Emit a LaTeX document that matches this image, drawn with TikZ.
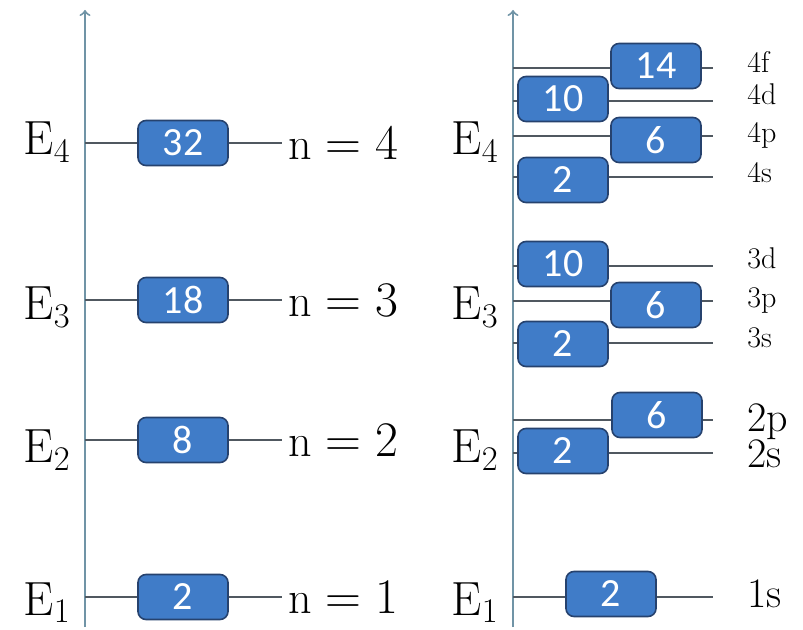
\documentclass[tikz,border=0pt]{standalone}
\usepackage{fontspec}
\newfontfamily\boxfont{Carlito}
\usepackage{xcolor}
\definecolor{shellblue}{RGB}{64,124,200}
\definecolor{shellnavy}{RGB}{38,66,110}
\definecolor{axisgrey}{RGB}{112,148,166}
\definecolor{levelgrey}{RGB}{80,88,96}
\usepackage{tikz}
\tikzset{
  % --- AXES AND LEVELS ---
  energy-axis/.style={
    draw=axisgrey,
    line width=1pt,
    ->
  },
  level-line/.style={
    draw=levelgrey,
    line width=0.7pt
  },
  % --- BOXES ---
  shell-box/.style={
    fill=shellblue,
    draw=shellnavy,
    line width=0.8pt,
    rounded corners=4pt,
    text=white,
    font=\boxfont\fontsize{20}{22}\selectfont,
    minimum width=45pt,
    minimum height=22.5pt,
    inner sep=0pt
  },
  % --- LABELS ---
  energy-label/.style={
    font=\fontsize{24}{28}\selectfont,
    anchor=base east,
    inner sep=0pt
  },
  shell-label/.style={
    font=\fontsize{23}{27}\selectfont,
    anchor=west,
    inner sep=3pt
  },
  orbit-label/.style={
    font=\fontsize{15}{17}\selectfont,
    anchor=base west,
    inner sep=0pt
  },
  orbit-label-big/.style={
    font=\fontsize{21}{23}\selectfont,
    anchor=base west,
    inner sep=0pt
  },
}
\begin{document}
\begin{tikzpicture}[x=0.5pt,y=-0.5pt]
  \useasboundingbox (0,0) rectangle (803,630);

  % --- left panel: shells
  \coordinate (axL-bot) at (85,627);
  \coordinate (axL-top) at (85,10);
  \draw[energy-axis] (axL-bot) -- (axL-top);

  \coordinate (axL-4) at (85,143);
  \coordinate (axL-3) at (85,300);
  \coordinate (axL-2) at (85,440);
  \coordinate (axL-1) at (85,597);
  \node[shell-box] (box-n4) at (183,143) {32};
  \node[shell-box] (box-n3) at (183,300) {18};
  \node[shell-box] (box-n2) at (183,440) {8};
  \node[shell-box] (box-n1) at (183,597) {2};
  \node[shell-label] (lbl-n4) at (282,143) {$\mathrm{n} = 4$};
  \node[shell-label] (lbl-n3) at (282,300) {$\mathrm{n} = 3$};
  \node[shell-label] (lbl-n2) at (282,440) {$\mathrm{n} = 2$};
  \node[shell-label] (lbl-n1) at (282,597) {$\mathrm{n} = 1$};
  \draw[level-line] (axL-4) -- (box-n4) -- (lbl-n4);
  \draw[level-line] (axL-3) -- (box-n3) -- (lbl-n3);
  \draw[level-line] (axL-2) -- (box-n2) -- (lbl-n2);
  \draw[level-line] (axL-1) -- (box-n1) -- (lbl-n1);

  \node[energy-label] (eL-4) at (71,155) {$\mathrm{E}_4$};
  \node[energy-label] (eL-3) at (71,320) {$\mathrm{E}_3$};
  \node[energy-label] (eL-2) at (71,463) {$\mathrm{E}_2$};
  \node[energy-label] (eL-1) at (71,615) {$\mathrm{E}_1$};

  % --- right panel: subshells
  \coordinate (axR-bot) at (513,627);
  \coordinate (axR-top) at (513,10);
  \draw[energy-axis] (axR-bot) -- (axR-top);

  \coordinate (axR-4f) at (513,68);  \coordinate (end-4f) at (713,68);
  \coordinate (axR-4d) at (513,101); \coordinate (end-4d) at (713,101);
  \coordinate (axR-4p) at (513,136); \coordinate (end-4p) at (713,136);
  \coordinate (axR-4s) at (513,177); \coordinate (end-4s) at (713,177);
  \coordinate (axR-3d) at (513,266); \coordinate (end-3d) at (713,266);
  \coordinate (axR-3p) at (513,301); \coordinate (end-3p) at (713,301);
  \coordinate (axR-3s) at (513,343); \coordinate (end-3s) at (713,343);
  \coordinate (axR-2p) at (513,420); \coordinate (end-2p) at (713,420);
  \coordinate (axR-2s) at (513,453); \coordinate (end-2s) at (713,453);
  \coordinate (axR-1s) at (513,597); \coordinate (end-1s) at (713,597);
  \draw[level-line] (axR-4f) -- (end-4f);
  \draw[level-line] (axR-4d) -- (end-4d);
  \draw[level-line] (axR-4p) -- (end-4p);
  \draw[level-line] (axR-4s) -- (end-4s);
  \draw[level-line] (axR-3d) -- (end-3d);
  \draw[level-line] (axR-3p) -- (end-3p);
  \draw[level-line] (axR-3s) -- (end-3s);
  \draw[level-line] (axR-2p) -- (end-2p);
  \draw[level-line] (axR-2s) -- (end-2s);
  \draw[level-line] (axR-1s) -- (end-1s);

  \node[shell-box] (box-4f) at (656,66)  {14};
  \node[shell-box] (box-4d) at (563,99)  {10};
  \node[shell-box] (box-4p) at (656,140) {6};
  \node[shell-box] (box-4s) at (563,180) {2};
  \node[shell-box] (box-3d) at (563,264) {10};
  \node[shell-box] (box-3p) at (656,305) {6};
  \node[shell-box] (box-3s) at (563,344) {2};
  \node[shell-box] (box-2p) at (657,415) {6};
  \node[shell-box] (box-2s) at (563,451) {2};
  \node[shell-box] (box-1s) at (611,594) {2};

  \node[orbit-label] (lbl-4f) at (747,73)  {4f};
  \node[orbit-label] (lbl-4d) at (747,105) {4d};
  \node[orbit-label] (lbl-4p) at (747,143) {4p};
  \node[orbit-label] (lbl-4s) at (747,183) {4s};
  \node[orbit-label] (lbl-3d) at (747,269) {3d};
  \node[orbit-label] (lbl-3p) at (747,308) {3p};
  \node[orbit-label] (lbl-3s) at (747,348) {3s};
  \node[orbit-label-big] (lbl-2p) at (747,432) {2p};
  \node[orbit-label-big] (lbl-2s) at (747,467) {2s};
  \node[orbit-label-big] (lbl-1s) at (747,607) {1s};

  \node[energy-label] (eR-4) at (499,155) {$\mathrm{E}_4$};
  \node[energy-label] (eR-3) at (499,320) {$\mathrm{E}_3$};
  \node[energy-label] (eR-2) at (499,463) {$\mathrm{E}_2$};
  \node[energy-label] (eR-1) at (499,615) {$\mathrm{E}_1$};

\end{tikzpicture}
\end{document}
